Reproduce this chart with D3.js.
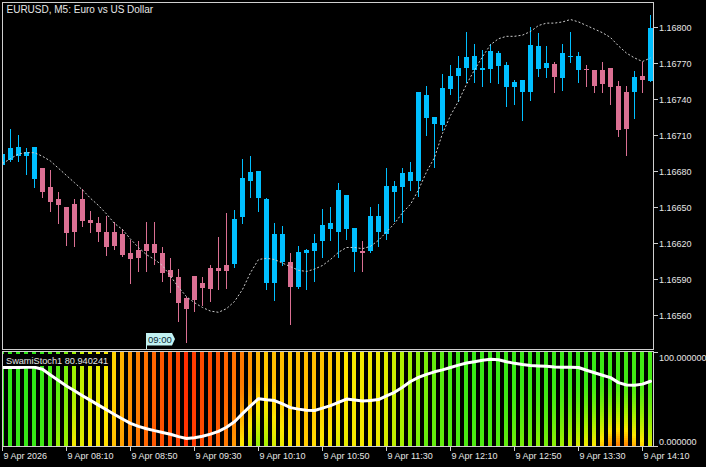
<!DOCTYPE html>
<html><head><meta charset="utf-8">
<script src="https://cdn.jsdelivr.net/npm/d3@7"></script>
<style>html,body{margin:0;padding:0;background:#000;}svg{display:block}</style>
</head><body><svg id="c" width="706" height="467"></svg>
<script>
// ---------- DATA ----------
const symbolTitle = "EURUSD, M5:  Euro vs US Dollar";
const indicatorLabel = "SwamiStoch1 80.940241";
const markerLabel = "09:00";
const markerBar = 18;

const open = [1.16685,1.16689,1.16692,1.16692,1.16673,1.16682,1.16666,1.16656,1.16650,1.16652,
1.16656,1.16639,1.16636,1.16629,1.16629,1.16627,1.16611,1.16614,1.16619,1.16619,
1.16611,1.16597,1.16591,1.16574,1.16592,1.16586,1.16599,1.16599,1.16601,1.16602,
1.16641,1.16671,1.16657,1.16586,1.16586,1.16604,1.16604,1.16583,1.16611,1.16613,
1.16621,1.16631,1.16629,1.16631,1.16612,1.16613,1.16613,1.16629,1.16627,1.16662,
1.16666,1.16671,1.16671,1.16724,1.16719,1.16718,1.16748,1.16759,1.16766,1.16764,
1.16764,1.16765,1.16767,1.16750,1.16750,1.16746,1.16746,1.16765,1.16766,1.16769,
1.16757,1.16775,1.16764,1.16765,1.16764,1.16764,1.16766,1.16751,1.16746,1.16746,
1.16759,1.16755];
const high = [1.16697,1.16715,1.16710,1.16699,1.16700,1.16682,1.16681,1.16662,1.16650,1.16656,
1.16665,1.16646,1.16641,1.16642,1.16637,1.16631,1.16622,1.16621,1.16637,1.16637,
1.16616,1.16607,1.16598,1.16575,1.16592,1.16591,1.16601,1.16625,1.16645,1.16647,
1.16690,1.16692,1.16680,1.16657,1.16636,1.16634,1.16611,1.16617,1.16615,1.16627,
1.16648,1.16650,1.16670,1.16660,1.16632,1.16621,1.16650,1.16652,1.16682,1.16671,
1.16682,1.16687,1.16746,1.16751,1.16725,1.16761,1.16768,1.16776,1.16796,1.16786,
1.16781,1.16786,1.16780,1.16771,1.16756,1.16756,1.16800,1.16795,1.16784,1.16771,
1.16786,1.16796,1.16779,1.16768,1.16764,1.16771,1.16766,1.16755,1.16751,1.16763,
1.16771,1.16810];
const low = [1.16683,1.16688,1.16688,1.16677,1.16666,1.16658,1.16646,1.16636,1.16618,1.16617,
1.16634,1.16629,1.16621,1.16610,1.16615,1.16609,1.16586,1.16596,1.16596,1.16602,
1.16588,1.16579,1.16555,1.16537,1.16563,1.16568,1.16571,1.16581,1.16582,1.16600,
1.16636,1.16658,1.16646,1.16581,1.16572,1.16601,1.16552,1.16582,1.16581,1.16588,
1.16608,1.16622,1.16608,1.16623,1.16596,1.16596,1.16612,1.16617,1.16623,1.16638,
1.16637,1.16664,1.16659,1.16710,1.16683,1.16714,1.16744,1.16738,1.16754,1.16754,
1.16751,1.16754,1.16753,1.16734,1.16736,1.16722,1.16739,1.16759,1.16758,1.16746,
1.16747,1.16771,1.16754,1.16751,1.16746,1.16746,1.16736,1.16709,1.16693,1.16724,
1.16746,1.16755];
const close = [1.16694,1.16699,1.16700,1.16696,1.16700,1.16662,1.16654,1.16651,1.16628,1.16629,
1.16638,1.16636,1.16629,1.16616,1.16617,1.16610,1.16606,1.16607,1.16613,1.16611,
1.16595,1.16591,1.16570,1.16565,1.16572,1.16582,1.16581,1.16596,1.16596,1.16640,
1.16674,1.16679,1.16680,1.16656,1.16627,1.16627,1.16583,1.16612,1.16614,1.16620,
1.16635,1.16636,1.16664,1.16660,1.16632,1.16611,1.16642,1.16642,1.16667,1.16667,
1.16678,1.16679,1.16746,1.16743,1.16725,1.16749,1.16759,1.16766,1.16775,1.16776,
1.16766,1.16780,1.16778,1.16768,1.16754,1.16756,1.16785,1.16784,1.16770,1.16758,
1.16778,1.16776,1.16776,1.16764,1.16751,1.16752,1.16750,1.16714,1.16715,1.16758,
1.16756,1.16799];
const ma = [1.16686,1.16690,1.16694,1.16695,1.16695,1.16692,1.16688,1.16682,1.16676,1.16670,
1.16664,1.16657,1.16651,1.16644,1.16636,1.16631,1.16623,1.16616,1.16610,1.16606,
1.16601,1.16592,1.16583,1.16575,1.16570,1.16566,1.16563,1.16562,1.16565,1.16571,
1.16581,1.16595,1.16606,1.16607,1.16606,1.16603,1.16600,1.16597,1.16596,1.16598,
1.16601,1.16606,1.16612,1.16616,1.16616,1.16615,1.16617,1.16622,1.16629,1.16636,
1.16645,1.16652,1.16664,1.16679,1.16691,1.16711,1.16726,1.16738,1.16752,1.16764,
1.16775,1.16785,1.16790,1.16792,1.16792,1.16793,1.16796,1.16801,1.16803,1.16803,
1.16804,1.16806,1.16804,1.16801,1.16798,1.16795,1.16791,1.16784,1.16778,1.16774,
1.16771,1.16774];

const stochLine = [83.2,83.3,83.3,83.4,83.4,81.4,75.2,69.4,63.5,58.4,
53.2,48.2,43.2,38.2,33.2,28.4,23.8,20.6,18.1,16.0,
14.1,12.2,9.7,7.6,8.5,10.1,12.3,15.3,19.6,25.4,
34.1,42.4,50.0,48.9,48.0,44.4,40.5,38.9,37.6,37.4,
40.0,42.6,46.1,49.6,48.6,47.6,48.0,49.1,53.0,56.8,
62.2,68.3,72.6,75.9,78.6,80.7,83.2,85.7,87.9,89.4,
90.9,91.9,91.4,89.3,87.6,86.4,85.4,84.9,84.4,83.8,
83.4,83.4,83.2,80.3,77.6,74.9,72.4,67.1,64.6,64.3,
65.5,68.6];
// heat values of the long periods (top) and short periods (bottom) per bar
const swTop = [97,97,97,97,97,95,92,88,80,72,
64,58,55,52,46,40,34,30,26,22,
18,15,13,6,10,14,14,16,22,26,
28,34,40,44,42,42,44,42,42,42,
43,44,46,50,52,53,54,54,57,62,
68,72,76,80,85,88,92,93,94,95,
95,95,95,95,95,95,95,95,95,95,
95,95,95,95,95,94,94,93,93,93,
93,92];
const swBot = [95,95,95,95,95,93,88,72,72,52,
56,50,52,48,42,36,30,27,22,18,
15,14,12,8,10,14,16,20,28,35,
52,62,75,70,60,55,52,48,45,48,
52,52,58,56,52,52,53,55,60,65,
70,75,80,85,85,85,88,90,90,90,
90,90,88,85,82,80,80,75,80,75,
70,62,58,52,50,42,32,28,30,38,
45,58];

const priceTicks = [1.16560,1.16590,1.16620,1.16650,1.16680,1.16710,1.16740,1.16770,1.16800];
const subTicks = [100, 0];
const subTickLabels = ["100.000000","0.000000"];
const timeTickBars = [0,8,16,24,32,40,48,56,64,72,80];
const timeTickLabels = ["9 Apr 2026","9 Apr 08:10","9 Apr 08:50","9 Apr 09:30","9 Apr 10:10","9 Apr 10:50","9 Apr 11:30","9 Apr 12:10","9 Apr 12:50","9 Apr 13:30","9 Apr 14:10"];

// ---------- DRAW ----------
const FONT = "'Liberation Sans', Arial, sans-serif";
const FG = "#e6e6e6", BORDER = "#cfcfcf";
const BULL = "#00bfff", BEAR = "#db7093";
const svg = d3.select("#c");
svg.append("rect").attr("width",706).attr("height",467).attr("fill","#000");

const n = open.length;
const x = d3.scaleLinear().domain([0, n-1]).range([2.5, 650.5]);
const y = d3.scaleLinear().domain([1.165314, 1.168206]).range([349, 2]);
const ys = d3.scaleLinear().domain([0,100]).range([445.7, 351.7]);
const heat = d3.scaleLinear().domain([0,30,50,70,100])
  .range(["#ff1a00","#ff8000","#ffe600","#a6f000","#22e61a"]).clamp(true);

const defs = svg.append("defs");
defs.append("clipPath").attr("id","mainClip").append("rect")
  .attr("x",3).attr("y",3).attr("width",650).attr("height",346);
defs.append("clipPath").attr("id","subClip").append("rect")
  .attr("x",3).attr("y",352).attr("width",650).attr("height",94);

// main pane
const gm = svg.append("g").attr("clip-path","url(#mainClip)");
const idx = d3.range(n);
gm.selectAll("rect.wick").data(idx).join("rect")
  .attr("shape-rendering","crispEdges")
  .attr("x", i => Math.floor(x(i)))
  .attr("width", 1)
  .attr("y", i => Math.round(y(high[i])))
  .attr("height", i => Math.max(1, Math.round(y(low[i])) - Math.round(y(high[i])) + 1))
  .attr("fill", i => close[i] >= open[i] ? BULL : BEAR);
gm.selectAll("rect.body").data(idx).join("rect")
  .attr("shape-rendering","crispEdges")
  .attr("x", i => Math.floor(x(i)) - 2)
  .attr("width", 5)
  .attr("y", i => Math.round(y(Math.max(open[i], close[i]))))
  .attr("height", i => Math.max(1, Math.round(y(Math.min(open[i], close[i]))) - Math.round(y(Math.max(open[i], close[i])))))
  .attr("fill", i => close[i] >= open[i] ? BULL : BEAR);

gm.append("path")
  .attr("d", d3.line().x((d,i)=>x(i)).y(d=>y(d))(ma))
  .attr("fill","none").attr("stroke","#cccccc").attr("stroke-width",1)
  .attr("stroke-dasharray","2,2");

// marker label 09:00
const mx = Math.floor(x(markerBar)) + 0.5;
svg.append("path")
  .attr("d", `M${mx-0.5},333 H${mx+25.5} L${mx+28.5},339 L${mx+25.5},345.5 H${mx-0.5} Z`)
  .attr("fill","#c2f2f2");
svg.append("line").attr("x1",mx).attr("x2",mx).attr("y1",333).attr("y2",349)
  .attr("stroke","#c2f2f2").attr("stroke-width",1);
svg.append("text").attr("x", mx+1.5).attr("y",339.5).attr("dy","0.35em")
  .attr("font-family",FONT).attr("font-size","9.5px").attr("fill","#0b2a36")
  .text(markerLabel);

// sub pane stripes
const gs = svg.append("g").attr("clip-path","url(#subClip)");
const rows = 47, rowH = 94/rows;
const cells = [];
idx.forEach(i => {
  for (let r = 0; r < rows; r++) {
    const t = (r + 0.5) / rows;
    const w = Math.max(0, (t - 0.3) / 0.7);
    const v = swTop[i] + (swBot[i] - swTop[i]) * Math.pow(w, 1.4);
    cells.push({i, r, v});
  }
});
gs.selectAll("rect.cell").data(cells).join("rect")
  .attr("shape-rendering","crispEdges")
  .attr("x", d => Math.floor(x(d.i)) - 2)
  .attr("width", 4)
  .attr("y", d => 352 + d.r * rowH)
  .attr("height", rowH + 0.05)
  .attr("fill", d => heat(d.v));

gs.append("path")
  .attr("d", d3.line().x((d,i)=>x(i)).y(d=>ys(d))(stochLine))
  .attr("fill","none").attr("stroke","#ffffff").attr("stroke-width",3)
  .attr("stroke-linejoin","round").attr("stroke-linecap","round");

// indicator label
svg.append("rect").attr("x",3).attr("y",354).attr("width",107).attr("height",12).attr("fill","#000");
svg.append("text").attr("x",6).attr("y",360.3).attr("dy","0.35em")
  .attr("font-family",FONT).attr("font-size","9.2px").attr("fill",FG).text(indicatorLabel);

// title
svg.append("text").attr("x",6.5).attr("y",9).attr("dy","0.35em")
  .attr("font-family",FONT).attr("font-size","10px").attr("fill",FG).text(symbolTitle);

// borders
const bg = svg.append("g").attr("fill","none").attr("stroke",BORDER).attr("stroke-width",1)
  .attr("shape-rendering","crispEdges");
bg.append("rect").attr("x",2.5).attr("y",2.5).attr("width",651).attr("height",347);
bg.append("rect").attr("x",2.5).attr("y",351.5).attr("width",651).attr("height",95);

// price axis
const pa = svg.append("g");
priceTicks.forEach(p => {
  const yy = Math.round(y(p)) + 0.5;
  pa.append("line").attr("x1",654).attr("x2",658).attr("y1",yy).attr("y2",yy)
    .attr("stroke",BORDER).attr("shape-rendering","crispEdges");
  pa.append("text").attr("x",659).attr("y",yy).attr("dy","0.35em")
    .attr("font-family",FONT).attr("font-size","9px").attr("fill",FG)
    .text(d3.format(".5f")(p));
});
// sub axis
subTicks.forEach((v,j) => {
  const yy = Math.round(ys(v)) + 0.5;
  pa.append("line").attr("x1",654).attr("x2",658).attr("y1",yy).attr("y2",yy)
    .attr("stroke",BORDER).attr("shape-rendering","crispEdges");
  pa.append("text").attr("x",659).attr("y", yy + (v === 100 ? 5 : -5)).attr("dy","0.35em")
    .attr("font-family",FONT).attr("font-size","9px").attr("fill",FG)
    .text(subTickLabels[j]);
});
// time axis
timeTickBars.forEach((b,j) => {
  const xx = Math.floor(x(b)) + 0.5;
  pa.append("line").attr("x1",xx).attr("x2",xx).attr("y1",447).attr("y2",451)
    .attr("stroke",BORDER).attr("shape-rendering","crispEdges");
  pa.append("text").attr("x",xx+1).attr("y",455.7).attr("dy","0.35em")
    .attr("font-family",FONT).attr("font-size","9px").attr("fill",FG)
    .text(timeTickLabels[j]);
});
</script></body></html>
